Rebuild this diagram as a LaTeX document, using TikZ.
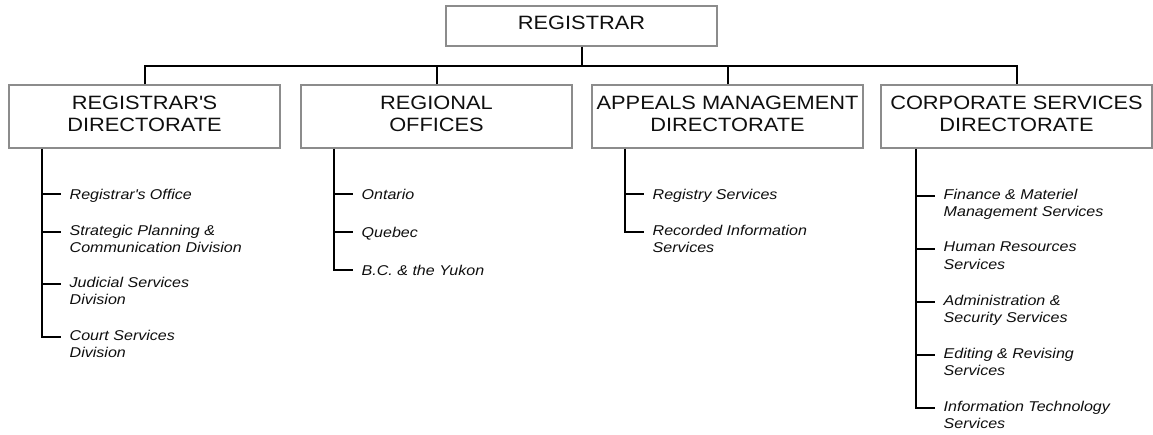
\documentclass[tikz,border=0pt]{standalone}
\usepackage{fontspec}
\setmainfont{Liberation Sans}[FakeStretch=1.13]
\usetikzlibrary{calc}
\definecolor{boxgray}{RGB}{140,140,140}
\definecolor{textgray}{RGB}{15,15,15}
\newcommand{\lowpad}{\rule[-5.7pt]{0pt}{0pt}}
\begin{document}
\begin{tikzpicture}[x=1pt,y=-1pt,
  box/.style={draw=boxgray, line width=1.4pt, minimum width=271pt, minimum height=63pt, align=center, inner sep=0pt, font=\fontsize{19.3}{21.5}\selectfont, text=textgray},
  conn/.style={line width=2pt, black},
  item/.style={anchor=north west, align=left, inner sep=0pt, font=\fontsize{14.2}{17.5}\selectfont\itshape, text=textgray, execute at begin node=\strut}]
\fill[white] (0,0) rectangle (1153,435);
\useasboundingbox (0,0) rectangle (1153,435);
% top
\node[box, minimum height=40pt] (reg) at (581.5,26) {REGISTRAR\lowpad};
\node[box] (d1) at (144.5,116.5) {REGISTRAR\textquotesingle S\\DIRECTORATE\lowpad};
\node[box] (d2) at (436.5,116.5) {REGIONAL\\OFFICES\lowpad};
\node[box] (d3) at (727.5,116.5) {APPEALS MANAGEMENT\\DIRECTORATE\lowpad};
\node[box] (d4) at (1016.5,116.5) {CORPORATE SERVICES\\DIRECTORATE\lowpad};
\coordinate (bar) at (582,66);
\draw[conn] (reg.south -| bar) -- (bar);
\draw[conn] (d1.north -| 145,0) -- (145,66) -- (1017,66) -- (d4.north -| 1017,0);
\draw[conn] (d2.north -| 437,0) -- (437,66);
\draw[conn] (d3.north -| 728,0) -- (728,66);
% text offset: first-line cap centre level with the tick
\def\dy{-7.15}
% column 1
\coordinate (k11) at (42,194);
\coordinate (k12) at (42,232);
\coordinate (k13) at (42,284);
\coordinate (k14) at (42,337);
\node[item] (c11) at ($(k11)+(27.5,\dy)$) {Registrar\textquotesingle s Office};
\node[item] (c12) at ($(k12)+(27.5,\dy)$) {Strategic Planning \&\\Communication Division};
\node[item] (c13) at ($(k13)+(27.5,\dy)$) {Judicial Services\\Division};
\node[item] (c14) at ($(k14)+(27.5,\dy)$) {Court Services\\Division};
\draw[conn] (d1.south -| k11) -- (k14) -- ++(19,0);
\foreach \k in {k11,k12,k13} \draw[conn] (\k) -- ++(19,0);
% column 2
\coordinate (k21) at (334,194);
\coordinate (k22) at (334,232);
\coordinate (k23) at (334,270);
\node[item] (c21) at ($(k21)+(27.5,\dy)$) {Ontario};
\node[item] (c22) at ($(k22)+(27.5,\dy)$) {Quebec};
\node[item] (c23) at ($(k23)+(27.5,\dy)$) {B.C. \& the Yukon};
\draw[conn] (d2.south -| k21) -- (k23) -- ++(19,0);
\foreach \k in {k21,k22} \draw[conn] (\k) -- ++(19,0);
% column 3
\coordinate (k31) at (625,194);
\coordinate (k32) at (625,232);
\node[item] (c31) at ($(k31)+(27.5,\dy)$) {Registry Services};
\node[item] (c32) at ($(k32)+(27.5,\dy)$) {Recorded Information\\Services};
\draw[conn] (d3.south -| k31) -- (k32) -- ++(19,0);
\draw[conn] (k31) -- ++(19,0);
% column 4
\coordinate (k41) at (916,196);
\coordinate (k42) at (916,249);
\coordinate (k43) at (916,302);
\coordinate (k44) at (916,355);
\coordinate (k45) at (916,408);
\node[item] (c41) at ($(k41)+(27.5,\dy)$) {Finance \& Materiel\\Management Services};
\node[item] (c42) at ($(k42)+(27.5,\dy)$) {Human Resources\\Services};
\node[item] (c43) at ($(k43)+(27.5,\dy)$) {Administration \&\\Security Services};
\node[item] (c44) at ($(k44)+(27.5,\dy)$) {Editing \& Revising\\Services};
\node[item] (c45) at ($(k45)+(27.5,\dy)$) {Information Technology\\Services};
\draw[conn] (d4.south -| k41) -- (k45) -- ++(19,0);
\foreach \k in {k41,k42,k43,k44} \draw[conn] (\k) -- ++(19,0);
\end{tikzpicture}
\end{document}
